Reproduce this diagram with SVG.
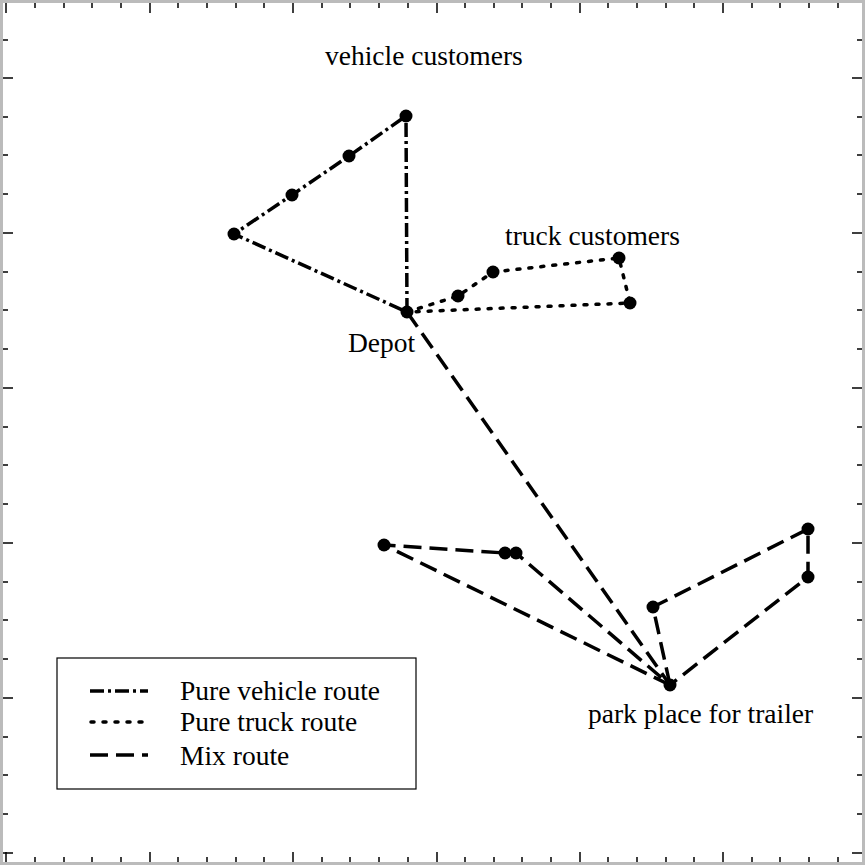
<svg xmlns="http://www.w3.org/2000/svg" width="865" height="865" viewBox="0 0 865 865">
<style>
.t{font-family:"Liberation Serif",serif;font-size:27.5px;fill:#000}
.r{fill:none;stroke:#000;stroke-width:3.5}
.v{stroke-dasharray:14 4 3 4}
.k{stroke-dasharray:3 9;stroke-linecap:round}
.m{stroke-dasharray:18 8}
.n{fill:#000}
.tk{stroke:#000;stroke-width:1.5}
</style>
<rect x="0" y="0" width="865" height="865" fill="#fff"/>
<rect x="1.5" y="1.5" width="862" height="862" fill="none" stroke="#bbb" stroke-width="3"/>
<g class="tk">
<path d="M6 3v10M35 3v5M64 3v5M92 3v5M121 3v5M150 3v10M178 3v5M207 3v5M236 3v5M264 3v5M293 3v10M322 3v5M350 3v5M379 3v5M408 3v5M437 3v10M465 3v5M494 3v5M522 3v5M551 3v5M580 3v10M608 3v5M637 3v5M666 3v5M694 3v5M723 3v10M752 3v5M780 3v5M809 3v5M838 3v5"/>
<path d="M6 862v-10M35 862v-5M64 862v-5M92 862v-5M121 862v-5M150 862v-10M178 862v-5M207 862v-5M236 862v-5M264 862v-5M293 862v-10M322 862v-5M350 862v-5M379 862v-5M408 862v-5M437 862v-10M465 862v-5M494 862v-5M522 862v-5M551 862v-5M580 862v-10M608 862v-5M637 862v-5M666 862v-5M694 862v-5M723 862v-10M752 862v-5M780 862v-5M809 862v-5M838 862v-5"/>
<path d="M3 40h5M3 78h10M3 117h5M3 155h5M3 194h5M3 233h10M3 272h5M3 310h5M3 349h5M3 388h10M3 427h5M3 465h5M3 504h5M3 543h10M3 582h5M3 620h5M3 659h5M3 698h10M3 737h5M3 775h5M3 814h5M3 853h10"/>
<path d="M862 40h-5M862 78h-10M862 117h-5M862 155h-5M862 194h-5M862 233h-10M862 272h-5M862 310h-5M862 349h-5M862 388h-10M862 427h-5M862 465h-5M862 504h-5M862 543h-10M862 582h-5M862 620h-5M862 659h-5M862 698h-10M862 737h-5M862 775h-5M862 814h-5M862 853h-10"/>
</g>
<g id="connectors">
<path class="r v" d="M407 312L406 116L349 156L292 195L234 234L407 312"/>
<path class="r k" d="M407 312L458 296L493 272L619 258L630 303L407 312"/>
<path class="r m" d="M407 312L670 685"/>
<path class="r m" d="M670 685L384 545L505 553L516 553L670 685"/>
<path class="r m" d="M670 685L653 607L808 529L808 577L670 685"/>
</g>
<g id="depot"><circle class="n" cx="407" cy="312" r="6.5"/><text class="t" x="348" y="352">Depot</text></g>
<g id="vehicle-customers">
<circle class="n" cx="406" cy="116" r="6.5"/><circle class="n" cx="349" cy="156" r="6.5"/><circle class="n" cx="292" cy="195" r="6.5"/><circle class="n" cx="234" cy="234" r="6.5"/>
<text class="t" x="325" y="65">vehicle customers</text></g>
<g id="truck-customers">
<circle class="n" cx="458" cy="296" r="6.5"/><circle class="n" cx="493" cy="272" r="6.5"/><circle class="n" cx="619" cy="258" r="6.5"/><circle class="n" cx="630" cy="303" r="6.5"/>
<text class="t" x="505" y="245">truck customers</text></g>
<g id="park"><circle class="n" cx="670" cy="685" r="6.5"/><text class="t" x="588" y="723">park place for trailer</text></g>
<g id="mix-customers">
<circle class="n" cx="384" cy="545" r="6.5"/><circle class="n" cx="505" cy="553" r="6.5"/><circle class="n" cx="516" cy="553" r="6.5"/><circle class="n" cx="653" cy="607" r="6.5"/><circle class="n" cx="808" cy="529" r="6.5"/><circle class="n" cx="808" cy="577" r="6.5"/>
</g>
<g id="legend">
<rect x="57" y="658" width="359" height="131" fill="#fff" stroke="#000" stroke-width="1.2"/>
<path class="r v" d="M90 691h58"/>
<path class="r k" d="M91 722h58"/>
<path class="r m" d="M90 755h58"/>
<text class="t" x="180" y="700">Pure vehicle route</text>
<text class="t" x="180" y="731">Pure truck route</text>
<text class="t" x="180" y="765">Mix route</text>
</g>
</svg>
